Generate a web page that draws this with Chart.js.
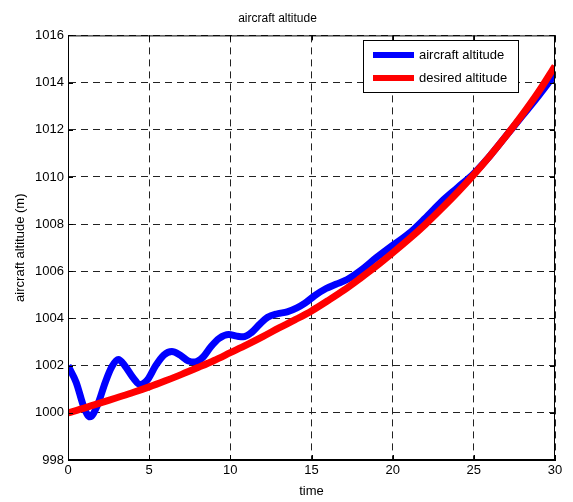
<!DOCTYPE html>
<html>
<head>
<meta charset="utf-8">
<script src="https://cdn.jsdelivr.net/npm/chart.js@4/dist/chart.umd.min.js"></script>
<style>
  html, body { margin: 0; padding: 0; background: #fff; }
  #wrap { width: 573px; height: 502px; }
</style>
</head>
<body>
<div id="wrap"><canvas id="c" width="573" height="502"></canvas></div>
<script>
// Time samples and altitudes (m) for the aircraft response
const aircraftTime = [0, 0.5, 1.0, 1.35, 1.8, 2.3, 2.7, 3.1, 3.5, 4.0, 4.45, 4.9, 5.4, 5.9, 6.4, 6.9, 7.4, 7.8,
  8.3, 8.8, 9.3, 9.9, 10.4, 10.8, 11.3, 11.8, 12.3, 12.9, 13.5, 14.1, 14.6, 15.2, 15.9, 16.5, 17.2, 18,
  19, 20, 21, 22, 23, 24, 25, 26, 27, 28, 29, 30];
const aircraftAltitude = [1002.0, 1001.3, 1000.2, 999.83, 1000.3, 1001.3, 1001.95, 1002.26, 1002.0, 1001.5, 1001.2,
  1001.4, 1002.0, 1002.45, 1002.6, 1002.45, 1002.2, 1002.15, 1002.35, 1002.8, 1003.15, 1003.32, 1003.25,
  1003.22, 1003.4, 1003.75, 1004.05, 1004.2, 1004.28, 1004.45, 1004.65, 1004.97, 1005.27, 1005.45, 1005.65,
  1006.02, 1006.58, 1007.1, 1007.6, 1008.25, 1008.95, 1009.55, 1010.15, 1010.9, 1011.75, 1012.6, 1013.45, 1014.35];

// Reference trajectory
const desiredTime = [0, 1, 2, 3, 4, 5, 6, 7, 8, 9, 10, 11, 12, 13, 14, 15, 16, 17, 18, 19, 20,
  21, 22, 23, 24, 25, 26, 27, 28, 29, 30];
const desiredAltitude = [1000.0, 1000.2, 1000.42, 1000.64, 1000.86, 1001.1, 1001.36, 1001.63, 1001.92, 1002.22,
  1002.55, 1002.88, 1003.23, 1003.6, 1003.95, 1004.32, 1004.75, 1005.2, 1005.7, 1006.22, 1006.78,
  1007.36, 1007.98, 1008.65, 1009.35, 1010.1, 1010.9, 1011.75, 1012.65, 1013.62, 1014.7];

const seriesNames = ['aircraft altitude', 'desired altitude'];
const xTicks = [0, 5, 10, 15, 20, 25, 30];
const yTicks = [998, 1000, 1002, 1004, 1006, 1008, 1010, 1012, 1014, 1016];

const FONT = '"Liberation Sans", Arial, sans-serif';
const BLUE = '#0000ff';
const RED = '#ff0000';

const toPoints = (xs, ys) => xs.map((x, i) => ({ x, y: ys[i] }));

// Box outline, inward tick marks and legend drawn on top of the plot
const framePlugin = {
  id: 'frame',
  afterDatasetsDraw(chart) {
    const { ctx, chartArea: a, scales } = chart;
    ctx.save();
    ctx.strokeStyle = '#000';
    ctx.lineWidth = 1;
    ctx.setLineDash([]);
    ctx.strokeRect(a.left + 0.5, a.top + 0.5, a.right - a.left - 1, a.bottom - a.top - 1);
    const tl = 5;
    ctx.beginPath();
    xTicks.forEach(v => {
      const px = Math.round(scales.x.getPixelForValue(v)) + 0.5;
      ctx.moveTo(px, a.bottom); ctx.lineTo(px, a.bottom - tl);
      ctx.moveTo(px, a.top); ctx.lineTo(px, a.top + tl);
    });
    yTicks.forEach(v => {
      const py = Math.round(scales.y.getPixelForValue(v)) + 0.5;
      ctx.moveTo(a.left, py); ctx.lineTo(a.left + tl, py);
      ctx.moveTo(a.right, py); ctx.lineTo(a.right - tl, py);
    });
    ctx.stroke();

    // legend box
    const lx = 363, ly = 40, lw = 155, lh = 52;
    ctx.fillStyle = '#fff';
    ctx.fillRect(lx, ly, lw, lh);
    ctx.strokeRect(lx + 0.5, ly + 0.5, lw, lh);
    const rows = [[seriesNames[0], BLUE, 55], [seriesNames[1], RED, 78]];
    ctx.font = '13px ' + FONT;
    ctx.textBaseline = 'middle';
    ctx.textAlign = 'left';
    rows.forEach(([label, color, y]) => {
      ctx.strokeStyle = color;
      ctx.lineWidth = 6;
      ctx.beginPath();
      ctx.moveTo(373, y); ctx.lineTo(414, y);
      ctx.stroke();
      ctx.fillStyle = '#000';
      ctx.fillText(label, 419, y);
    });
    ctx.restore();
  }
};

new Chart(document.getElementById('c'), {
  type: 'line',
  data: {
    datasets: [
      {
        label: seriesNames[0],
        data: toPoints(aircraftTime, aircraftAltitude),
        borderColor: BLUE,
        borderWidth: 7,
        pointRadius: 0,
        cubicInterpolationMode: 'monotone',
        fill: false,
        order: 1
      },
      {
        label: seriesNames[1],
        data: toPoints(desiredTime, desiredAltitude),
        borderColor: RED,
        borderWidth: 7,
        pointRadius: 0,
        cubicInterpolationMode: 'monotone',
        fill: false,
        order: 0
      }
    ]
  },
  options: {
    responsive: false,
    animation: false,
    devicePixelRatio: 1,
    layout: { padding: { top: 0, right: 18, left: 0, bottom: 0 } },
    plugins: {
      legend: { display: false },
      tooltip: { enabled: false },
      title: {
        display: true,
        text: 'aircraft altitude',
        color: '#000',
        font: { family: FONT, size: 12, weight: 'normal' },
        padding: { top: 11, bottom: 10 }
      }
    },
    scales: {
      x: {
        type: 'linear',
        min: 0, max: 30,
        afterBuildTicks: s => { s.ticks = xTicks.map(v => ({ value: v })); },
        afterFit: s => { s.height = 42; },
        ticks: { color: '#000', font: { family: FONT, size: 13 }, padding: 3, maxRotation: 0,
                 callback: v => String(v) },
        grid: { color: '#222', lineWidth: 1, drawTicks: false },
        border: { display: true, color: '#000', dash: [7, 5] },
        title: {
          display: true, text: 'time', color: '#000',
          font: { family: FONT, size: 13 }, padding: { top: 0, bottom: 3 }
        }
      },
      y: {
        type: 'linear',
        min: 998, max: 1016,
        afterBuildTicks: s => { s.ticks = yTicks.map(v => ({ value: v })); },
        afterFit: s => { s.width = 68; },
        ticks: { color: '#000', font: { family: FONT, size: 13 }, padding: 4,
                 callback: v => String(v) },
        grid: { color: '#222', lineWidth: 1, drawTicks: false },
        border: { display: true, color: '#000', dash: [7, 5] },
        title: {
          display: true, text: 'aircraft altitude (m)', color: '#000',
          font: { family: FONT, size: 13 }, padding: { top: 13, bottom: 0 }
        }
      }
    }
  },
  plugins: [framePlugin]
});
</script>
</body>
</html>
